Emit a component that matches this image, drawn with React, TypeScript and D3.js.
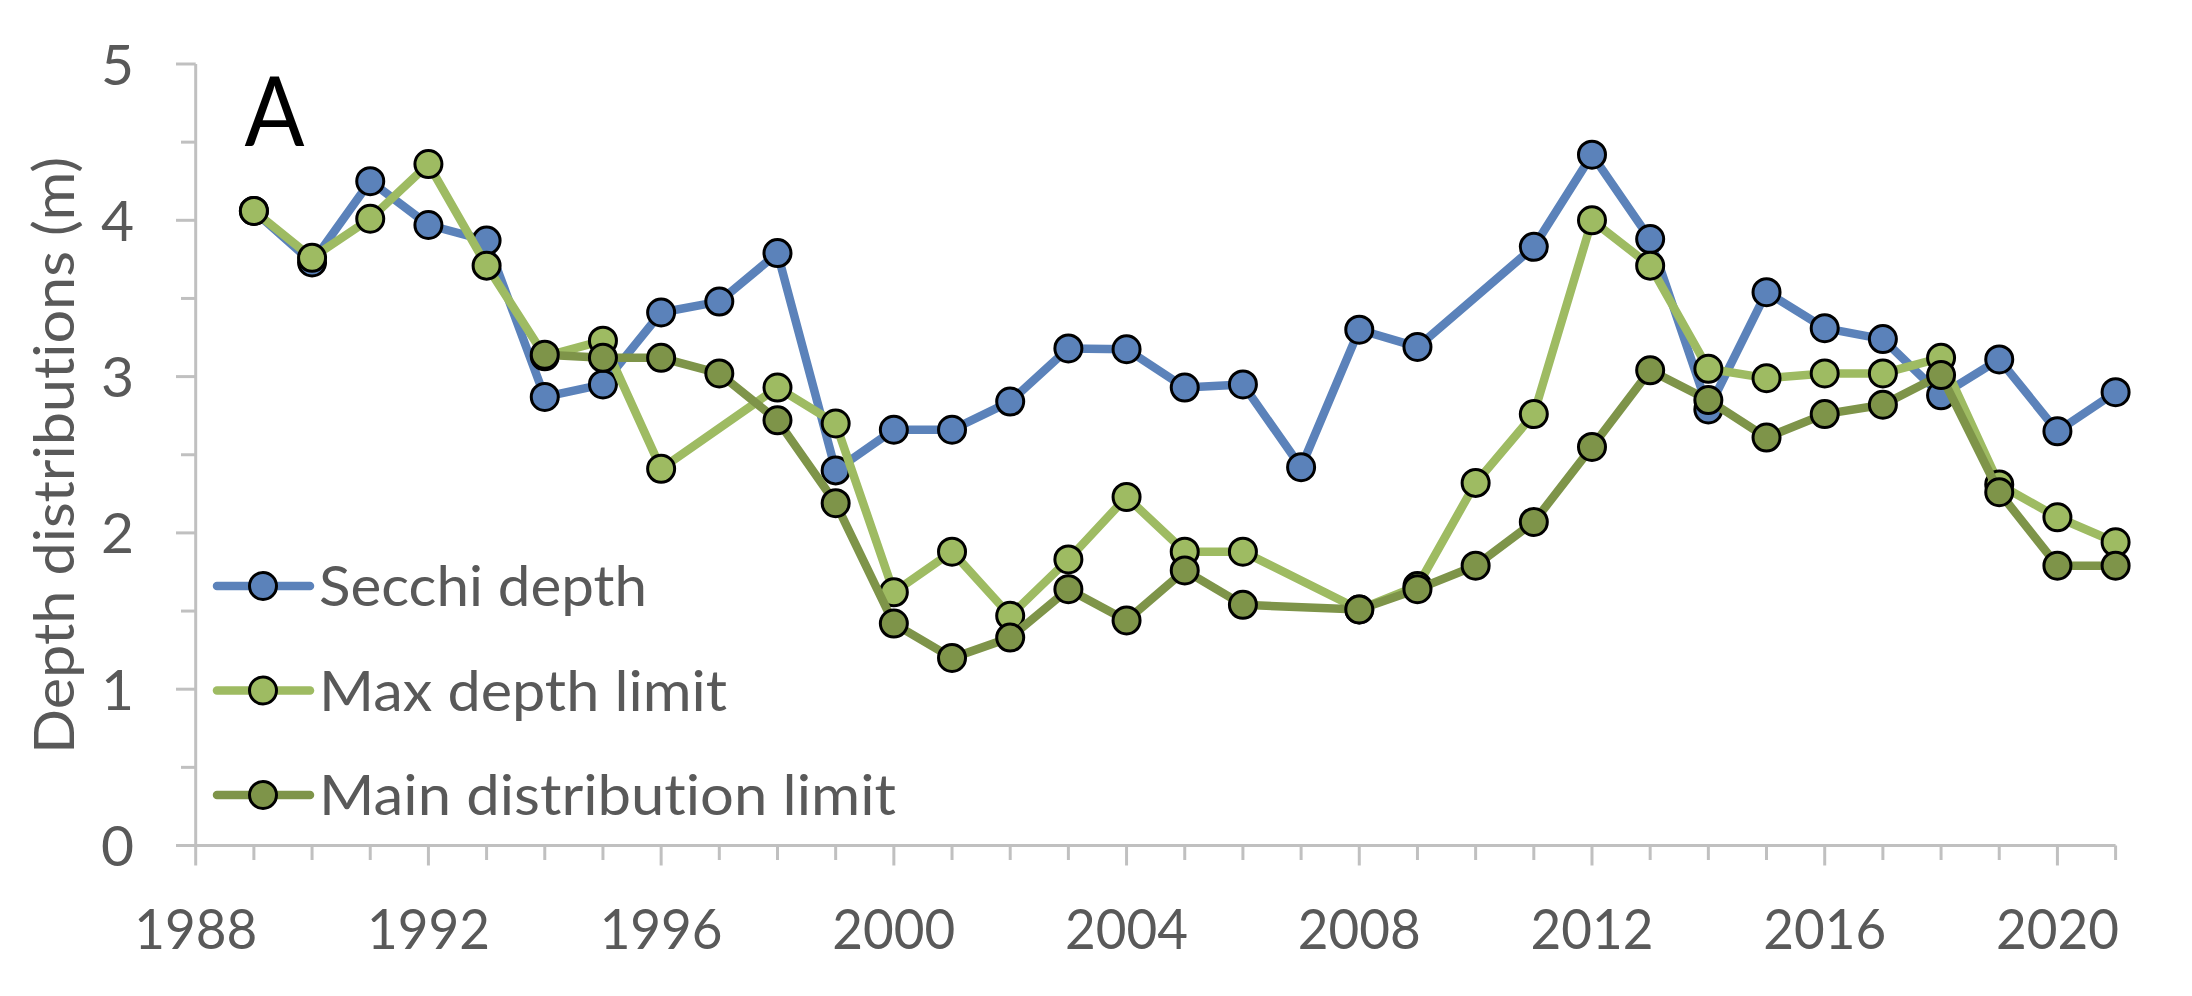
import React from 'react';
import * as d3 from 'd3';

// Survey years
const years: number[] = [
  1989, 1990, 1991, 1992, 1993, 1994, 1995, 1996, 1997, 1998, 1999,
  2000, 2001, 2002, 2003, 2004, 2005, 2006, 2007, 2008, 2009, 2010,
  2011, 2012, 2013, 2014, 2015, 2016, 2017, 2018, 2019, 2020, 2021,
];

// Depths in metres (null = no observation that year)
const secchiDepth: (number | null)[] = [
  4.06, 3.73, 4.25, 3.97, 3.87, 2.87, 2.95, 3.41, 3.48, 3.79, 2.40,
  2.66, 2.66, 2.84, 3.18, 3.175, 2.93, 2.95, 2.42, 3.30, 3.19, null,
  3.83, 4.42, 3.88, 2.79, 3.54, 3.31, 3.24, 2.88, 3.11, 2.65, 2.90,
];
const maxDepthLimit: (number | null)[] = [
  4.06, 3.76, 4.01, 4.36, 3.71, 3.13, 3.23, 2.41, null, 2.93, 2.70,
  1.62, 1.88, 1.47, 1.83, 2.23, 1.88, 1.88, null, 1.51, 1.66, 2.32,
  2.76, 4.00, 3.71, 3.05, 2.99, 3.02, 3.02, 3.12, 2.31, 2.10, 1.94,
];
const mainDistributionLimit: (number | null)[] = [
  null, null, null, null, null, 3.14, 3.12, 3.12, 3.02, 2.72, 2.19,
  1.42, 1.20, 1.33, 1.64, 1.44, 1.76, 1.54, null, 1.51, 1.64, 1.79,
  2.07, 2.55, 3.04, 2.85, 2.61, 2.76, 2.82, 3.01, 2.26, 1.79, 1.79,
];

const seriesNames = ['Secchi depth', 'Max depth limit', 'Main distribution limit'];
const seriesColors = ['#5B82BA', '#9EBB62', '#7E9449'];
const seriesValues = [secchiDepth, maxDepthLimit, mainDistributionLimit];

const yTicks = [0, 1, 2, 3, 4, 5];
const xLabelYears = [1988, 1992, 1996, 2000, 2004, 2008, 2012, 2016, 2020];

const W = 2192;
const H = 996;
const FONT = 'Lato, "Open Sans", sans-serif';
const TEXT = '#595959';
const AXIS = '#C0C0C0';
const noLig = { fontVariantLigatures: 'none', fontFeatureSettings: '"liga" 0, "clig" 0' } as React.CSSProperties;

export default function App() {
  const x = d3.scaleLinear().domain([1988, 2021]).range([195.7, 2115.6]);
  const y = d3.scaleLinear().domain([0, 5]).range([845.5, 64]);

  const line = d3
    .line<{ year: number; v: number }>()
    .x((d) => x(d.year))
    .y((d) => y(d.v));

  const series = seriesValues.map((vals, i) => ({
    name: seriesNames[i],
    color: seriesColors[i],
    points: years
      .map((year, j) => ({ year, v: vals[j] as number }))
      .filter((d) => d.v !== null),
  }));

  const minorY = d3.range(0, 5.01, 0.5);
  const allYears = d3.range(1988, 2022);

  const legendY = [586, 690.5, 795];

  return (
    <svg
      width={W}
      height={H}
      style={{ position: 'absolute', left: 0, top: 0, background: '#fff' }}
    >
      <rect x={0} y={0} width={W} height={H} fill="#fff" />

      {/* y axis */}
      <line x1={x(1988)} x2={x(1988)} y1={y(5)} y2={y(0)} stroke={AXIS} strokeWidth={3} />
      {minorY.map((t) => {
        const major = Number.isInteger(t);
        return (
          <line
            key={'yt' + t}
            x1={major ? 176 : 181}
            x2={x(1988)}
            y1={y(t)}
            y2={y(t)}
            stroke={AXIS}
            strokeWidth={3}
          />
        );
      })}
      {yTicks.map((t) => (
        <text
          key={'yl' + t}
          x={134}
          y={y(t) + 20.5}
          textAnchor="end"
          fontFamily={FONT}
          fontSize={57}
          fill={TEXT}
        >
          {t}
        </text>
      ))}

      {/* x axis */}
      <line x1={176} x2={x(2021)} y1={y(0)} y2={y(0)} stroke={AXIS} strokeWidth={3} />
      {allYears.map((yr) => {
        const major = (yr - 1988) % 4 === 0;
        return (
          <line
            key={'xt' + yr}
            x1={x(yr)}
            x2={x(yr)}
            y1={y(0)}
            y2={major ? 865.5 : 860}
            stroke={AXIS}
            strokeWidth={3}
          />
        );
      })}
      {xLabelYears.map((yr) => (
        <text
          key={'xl' + yr}
          x={x(yr)}
          y={948.5}
          textAnchor="middle"
          fontFamily={FONT}
          fontSize={57}
          fill={TEXT}
          textLength={123}
          lengthAdjust="spacingAndGlyphs"
        >
          {yr}
        </text>
      ))}

      {/* y axis title */}
      <text
        transform="translate(73.5,455.5) rotate(-90)"
        textAnchor="middle"
        fontFamily={FONT}
        fontSize={56}
        fill={TEXT}
        textLength={597}
        lengthAdjust="spacingAndGlyphs"
        style={noLig}
      >
        Depth distributions (m)
      </text>

      {/* panel letter */}
      <text
        x={244.5}
        y={145.7}
        fontFamily={FONT}
        fontSize={97}
        fill="#000"
        textLength={60}
        lengthAdjust="spacingAndGlyphs"
      >
        A
      </text>

      {/* series */}
      {series.map((s) => (
        <g key={s.name}>
          <path
            d={line(s.points) || ''}
            fill="none"
            stroke={s.color}
            strokeWidth={8.5}
            strokeLinejoin="round"
            strokeLinecap="round"
          />
          {s.points.map((p) => (
            <circle
              key={p.year}
              cx={x(p.year)}
              cy={y(p.v)}
              r={13.5}
              fill={s.color}
              stroke="#000"
              strokeWidth={3}
            />
          ))}
        </g>
      ))}

      {/* legend */}
      {series.map((s, i) => (
        <g key={'lg' + s.name}>
          <line
            x1={217}
            x2={310}
            y1={legendY[i]}
            y2={legendY[i]}
            stroke={s.color}
            strokeWidth={8.5}
            strokeLinecap="round"
          />
          <circle cx={263} cy={legendY[i]} r={13.5} fill={s.color} stroke="#000" strokeWidth={3} />
          <text
            x={319}
            y={legendY[i] + 20}
            fontFamily={FONT}
            fontSize={57}
            fill={TEXT}
            textLength={[328, 408, 577][i]}
            lengthAdjust="spacingAndGlyphs"
            style={noLig}
          >
            {s.name}
          </text>
        </g>
      ))}
    </svg>
  );
}
